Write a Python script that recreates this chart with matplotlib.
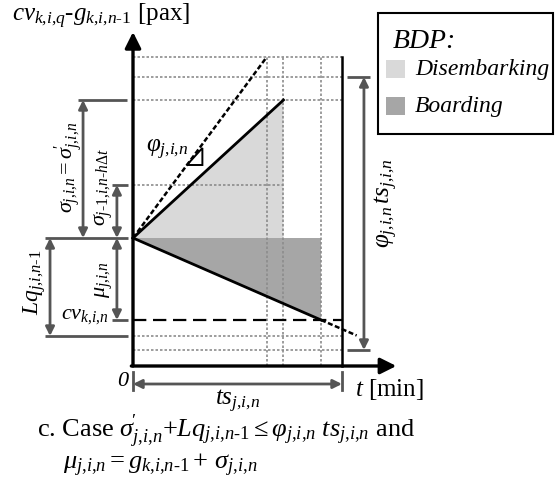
import matplotlib
matplotlib.use("Agg")
import matplotlib.pyplot as plt
from matplotlib.patches import Polygon, Rectangle

plt.rcParams['font.family'] = ['Liberation Serif', 'DejaVu Serif']
plt.rcParams['mathtext.fontset'] = 'custom'
plt.rcParams['mathtext.rm'] = 'Liberation Serif'
plt.rcParams['mathtext.it'] = 'Liberation Serif:italic'

# diagram values (t in min, y in pax, origin at lower left corner)
ts = 10.0            # ts_j,i,n
t_phi = 6.4          # phi line reaches the top
t_dis = 7.2          # end of disembarking
t_board = 9.0        # end of boarding
t_ext = 10.7         # end of dotted boarding extension
t_xaxis = 12.6
y_yaxis = 33.4

y_start = 12.8       # g_k,i,n-1
y_top = 30.9
y_phits = 28.9       # top of phi*ts
y_sigma = 26.6       # sigma_j,i,n
y_sigma_prev = 18.1  # sigma_j-1,i,n-h dt
y_cv = 4.6           # cv_k,i,n
y_lq = 3.0           # bottom of Lq
y_low = 1.6          # bottom of phi*ts

grid_t = [t_phi, t_dis, t_board]
grid_y = [y_top, y_phits, y_sigma, y_lq, y_low]

light = '#d9d9d9'
dark = '#a6a6a6'
gray = '#555555'
gridc = '#8c8c8c'

# subscripts without the extra space after commas
JIN = r"j{,}i{,}n"
KIN1 = r"k{,}i{,}n\text{-}\mathit{1}"
SIGP = r"\sigma^{\!\prime}_{%s}" % JIN

fig = plt.figure(figsize=(5.56, 4.88), dpi=100)
ax = fig.add_axes([0, 0, 1, 1])
ax.set_xlim(-133 / 20.9, 423 / 20.9)
ax.set_ylim(-12.2, 36.6)
ax.axis('off')

# fills
ax.add_patch(Polygon([(0, y_start), (t_dis, y_sigma), (t_dis, y_start)],
                     closed=True, fc=light, ec='none', zorder=1))
ax.add_patch(Polygon([(0, y_start), (t_board, y_start), (t_board, y_cv)],
                     closed=True, fc=dark, ec='none', zorder=1))

# dotted grid
dot = (0, (1.5, 1.2))
ax.hlines(grid_y, 0, ts, colors=gridc, linestyles=[dot], lw=1.2, zorder=2)
ax.hlines(y_sigma_prev, 0, t_dis, colors=gridc, linestyles=[dot], lw=1.2, zorder=2)
ax.vlines(grid_t, 0, y_top, colors=gridc, linestyles=[dot], lw=1.2, zorder=2)

# process lines
ax.plot([0, t_phi], [y_start, y_top], color='black', ls=(0, (2, 1)), lw=1.8, zorder=3)
ax.plot([0, t_dis], [y_start, y_sigma], color='black', lw=2, zorder=3)
ax.plot([0, t_board], [y_start, y_cv], color='black', lw=2, zorder=3)
slope = (y_cv - y_start) / t_board
ax.plot([t_board, t_ext], [y_cv, y_start + slope * t_ext], color='black',
        ls=(0, (2, 1)), lw=1.8, zorder=3)
ax.plot([0, ts], [y_cv, y_cv], color='black', ls=(0, (6, 3)), lw=1.6, zorder=3)

# frame and axes
ax.plot([ts, ts], [0, y_top], color='black', lw=1.8, zorder=4)
ax.annotate('', xy=(0, y_yaxis), xytext=(0, 0),
            arrowprops=dict(arrowstyle='-|>', color='black', lw=2.4,
                            mutation_scale=24, shrinkA=0, shrinkB=0), zorder=5)
ax.annotate('', xy=(t_xaxis, 0), xytext=(-0.08, 0),
            arrowprops=dict(arrowstyle='-|>', color='black', lw=2.4,
                            mutation_scale=24, shrinkA=0, shrinkB=0), zorder=5)

# slope marker
ax.add_patch(Polygon([(2.58, 20.1), (3.32, 20.1), (3.32, 21.8)], closed=True,
                     fc='none', ec='black', lw=1.4, zorder=4))
ax.text(0.6, 21.6, r'$\varphi_{%s}$' % JIN, fontsize=18, ha='left', va='center')


def dim(x, y1, y2):
    ax.annotate('', xy=(x, y1), xytext=(x, y2),
                arrowprops=dict(arrowstyle='<|-|>', color=gray, lw=2,
                                mutation_scale=13, shrinkA=0, shrinkB=0))


def tick(y, x1, x2):
    ax.plot([x1, x2], [y, y], color=gray, lw=2, solid_capstyle='butt')


# left dimensions
tick(y_sigma, -2.63, -0.29)
tick(y_sigma_prev, -1.0, -0.24)
tick(y_start, -4.21, -0.24)
tick(y_cv, -1.0, -0.24)
tick(y_lq, -4.21, -0.24)
dim(-2.39, y_sigma, y_start)
dim(-0.77, y_sigma_prev, y_start)
dim(-3.97, y_start, y_lq)
dim(-0.77, y_start, y_cv)

ax.text(-3.05, 19.9, r"$\sigma_{%s}=%s$" % (JIN, SIGP), rotation=90,
        fontsize=16, ha='center', va='center')
ax.text(-1.38, 17.9, r"$\sigma_{j\text{-}\mathit{1}{,}i{,}n\text{-}h\Delta t}$",
        rotation=90, fontsize=16, ha='center', va='center')
ax.text(-4.72, 8.4, r"$Lq_{j{,}i{,}n\text{-}\mathit{1}}$", rotation=90,
        fontsize=17, ha='center', va='center')
ax.text(-1.38, 8.6, r"$\mu_{%s}$" % JIN, rotation=90,
        fontsize=16, ha='center', va='center')
ax.text(-1.15, 4.9, r"$cv_{k{,}i{,}n}$", fontsize=16, ha='right', va='center')

# right dimension
tick(y_phits, 10.24, 11.34)
tick(y_low, 10.24, 11.34)
dim(11.05, y_phits, y_low)
ax.text(12.15, 16.3, r"$\varphi_{%s}\,ts_{%s}$" % (JIN, JIN), rotation=90,
        fontsize=18, ha='center', va='center')

# bottom dimension
ax.plot([0, 0], [-0.6, -2.4], color=gray, lw=2)
ax.plot([ts, ts], [-0.6, -2.4], color=gray, lw=2)
dim_y = -1.8
ax.annotate('', xy=(0, dim_y), xytext=(ts, dim_y),
            arrowprops=dict(arrowstyle='<|-|>', color=gray, lw=2,
                            mutation_scale=13, shrinkA=0, shrinkB=0))
ax.text(ts / 2, -3.5, r"$ts_{%s}$" % JIN, fontsize=18, ha='center', va='center')
ax.text(-0.25, -1.6, "0", fontsize=16, style='italic', ha='right', va='center')
ax.text(10.6, -2.3, r"$t$ [min]", fontsize=18, ha='left', va='center')

# top axis label
ax.text(-5.8, 35.0, r"$cv_{k{,}i{,}q}\text{-}g_{%s}$ [pax]" % KIN1,
        fontsize=18, ha='left', va='center')

# legend box
ax.add_patch(Rectangle((11.72, 23.2), 20.1 - 11.72, 35.3 - 23.2, fc='white',
                       ec='black', lw=1.5, zorder=6))
ax.text(12.44, 32.4, "BDP:", fontsize=20, ha='left', va='center', zorder=7,
        style='italic')
ax.add_patch(Rectangle((12.1, 28.8), 0.91, 1.8, fc=light, ec='none', zorder=7))
ax.add_patch(Rectangle((12.1, 25.1), 0.91, 1.8, fc=dark, ec='none', zorder=7))
ax.text(13.5, 29.6, "Disembarking", fontsize=17, style='italic', ha='left',
        va='center', zorder=7)
ax.text(13.5, 25.9, "Boarding", fontsize=17, style='italic', ha='left',
        va='center', zorder=7)

# caption
ax.text(-4.6, -6.5,
        r"c. Case $%s$+$Lq_{j{,}i{,}n\text{-}\mathit{1}}\leq\varphi_{%s}\ ts_{%s}$ and"
        % (SIGP, JIN, JIN),
        fontsize=19, ha='left', va='center')
ax.text(-3.35, -9.9, r"$\mu_{%s}=g_{%s}+\,\sigma_{%s}$" % (JIN, KIN1, JIN),
        fontsize=19, ha='left', va='center')

fig.savefig('out.png', dpi=100)
